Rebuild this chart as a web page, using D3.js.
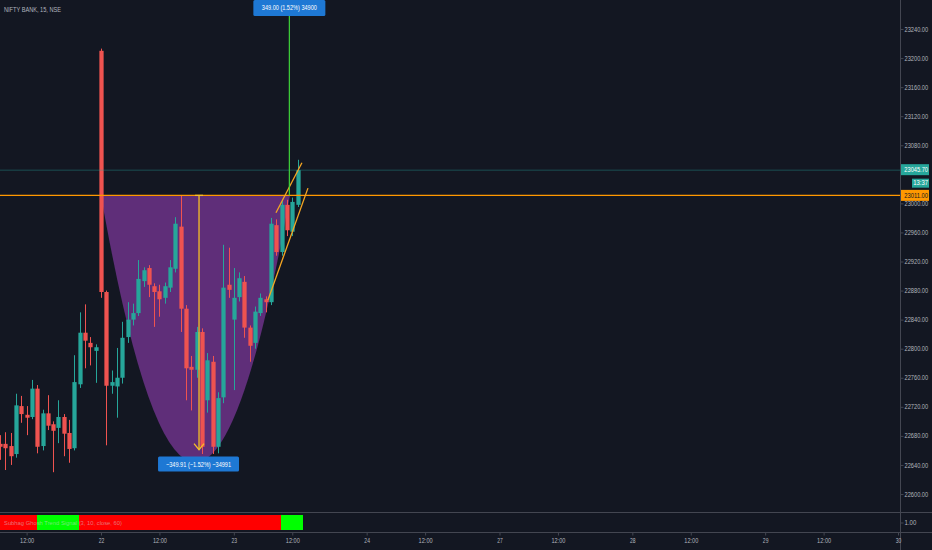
<!DOCTYPE html>
<html><head><meta charset="utf-8">
<script src="https://cdn.jsdelivr.net/npm/d3@7"></script>
<style>
html,body{margin:0;padding:0;background:#131722;overflow:hidden}
svg{display:block}
</style></head><body>
<svg id="chart" width="932" height="550"></svg>
<script>
// ---------- DATA ----------
const title = "NIFTY BANK, 15, NSE";
const indicatorTitle = "Subhag Ghosh Trend Signal (3, 10, close, 60)";
// bar index: day 21 bars 0-24, day 22 bars 25-49, day 23 bars 50-74 (15-minute bars)
const firstBarIndex = 6;
const opens  = [22669,22669,22666,22655,22721,22709,22706,22745,22666,22711,22696,22691,22706,22684,22663,22751,22822,22808,22797,
                23210,22878,22749,22748,22760,22816,22840,22849,22893,22911,22886,22879,22870,22884,22910,22968,22855,22775,22771,22823,22729,22782,22665,22733,22888,
                22840,22871,22892,22829,22808,22849,22868,22864,22970,22933,22998,22961,22998];
const highs  = [22681,22685,22684,22738,22735,22721,22757,22750,22716,22736,22700,22729,22710,22702,22791,22850,22861,22816,22806,
                23213,22880,22770,22801,22837,22864,22862,22922,22912,22915,22890,22888,22891,22922,22981,23011,22860,22790,22830,22828,22794,22790,22740,22943,22939,
                22911,22905,22900,22832,22858,22876,22872,22980,22978,23003,23005,23008,23060];
const lows   = [22647,22633,22640,22650,22698,22681,22703,22656,22660,22688,22630,22670,22652,22643,22660,22746,22773,22777,22753,
                22870,22667,22738,22705,22752,22808,22832,22845,22885,22871,22830,22844,22862,22878,22905,22823,22729,22715,22760,22655,22712,22655,22656,22725,22870,
                22743,22865,22815,22782,22800,22845,22850,22860,22928,22928,22955,22955,22995];
const closes = [22665,22663,22652,22722,22710,22705,22745,22665,22711,22694,22687,22706,22683,22662,22754,22822,22811,22802,22802,
                22878,22749,22754,22760,22815,22840,22849,22896,22908,22888,22878,22868,22886,22912,22972,22855,22773,22771,22823,22665,22784,22665,22732,22884,22881,
                22870,22897,22829,22804,22851,22870,22864,22972,22933,22998,22963,23002,23045.7];
// trend signal per bar: 1 = green, 0 = red
const signal = [0,0,0,0,0,0,0,1,1,1,1,1,1,1,1,0,0,0,0,
                0,0,0,0,0,0,0,0,0,0,0,0,0,0,0,0,0,0,0,0,0,0,0,0,0,
                0,0,0,0,0,0,0,0,0,1,1,1,1];
// 23040 is hidden behind the last-price label in the reference
const priceTicks = [22600,22640,22680,22720,22760,22800,22840,22880,22920,22960,23000,23080,23120,23160,23200,23240];
const timeTickIndex = [11,25,36,50,61,75,86,100,111,125,136,150,161,175];
const timeTickLabels = ["12:00","22","12:00","23","12:00","24","12:00","27","12:00","28","12:00","29","12:00","30"];
const lastPrice = 23045.70;
const countdown = "13:37";
const levelPrice = 23011.00;
// drawings: [barIndex, price]
const cupStart = [25, 23011], cupControl = [42.7, 22276], cupEnd = [60.56, 23011];
const channelUpper = [[57.93, 22987], [62.82, 23056]];
const channelLower = [[56.42, 22867], [63.95, 23021]];
const measureUp = {bar: 60.45, from: 23011, to: 23360, label: "349.00 (1.52%) 34900"};
const measureDown = {bar: 43.45, from: 23011, to: 22661.09, label: "\u2212349.91 (\u22121.52%) \u221234991"};

// ---------- CHART ----------
const FONT = '"Liberation Sans", Arial, sans-serif';
const W = 932, H = 550, axisX = 900, mainBottom = 512, indTop = 513, indBottom = 532;
const svg = d3.select("#chart").style("font-family", FONT);
const x = d3.scaleLinear().domain([25, 175]).range([101, 898]);
const y = d3.scaleLinear().domain([22600, 23240]).range([494, 29]);
const yInd = d3.scaleLinear().domain([0, 2]).range([530, 515]);
const step = x(1) - x(0);
const bodyW = step * 0.8;
const TXT = "#b2b5be";
const LINE = "#434651";

function condense(sel, perChar, fs) {
  sel.each(function () {
    const t = d3.select(this);
    const s = t.text();
    t.attr("font-family", FONT).attr("font-size", fs || 7.5)
      .attr("textLength", s.length * perChar).attr("lengthAdjust", "spacingAndGlyphs");
  });
}

svg.append("rect").attr("width", W).attr("height", H).attr("fill", "#131722");

svg.append("clipPath").attr("id", "mainclip").append("rect")
  .attr("x", 0).attr("y", 0).attr("width", axisX).attr("height", mainBottom);
svg.append("clipPath").attr("id", "indclip").append("rect")
  .attr("x", 0).attr("y", indTop).attr("width", axisX).attr("height", indBottom - indTop);

const main = svg.append("g").attr("clip-path", "url(#mainclip)");

// cup drawing (filled quadratic curve)
const cp = d3.path();
cp.moveTo(x(cupStart[0]), y(cupStart[1]));
cp.quadraticCurveTo(x(cupControl[0]), y(cupControl[1]), x(cupEnd[0]), y(cupEnd[1]));
cp.closePath();
main.append("path").attr("d", cp.toString()).attr("fill", "#5f2e79");

// candles
const bars = opens.map((o, i) => ({i: firstBarIndex + i, o, h: highs[i], l: lows[i], c: closes[i]}));
const cg = main.append("g");
bars.forEach(b => {
  const col = b.c >= b.o ? "#26a69a" : "#ef5350";
  const cx = Math.round(x(b.i)) + 0.5;
  cg.append("line").attr("x1", cx).attr("x2", cx)
    .attr("y1", y(b.h)).attr("y2", y(b.l)).attr("stroke", col).attr("stroke-width", 1);
  const top = y(Math.max(b.o, b.c)), bot = y(Math.min(b.o, b.c));
  cg.append("rect").attr("x", cx - bodyW / 2).attr("width", bodyW)
    .attr("y", top).attr("height", Math.max(1, bot - top)).attr("fill", col);
});

// last price line & level line
main.append("line").attr("x1", 0).attr("x2", axisX).attr("y1", y(lastPrice)).attr("y2", y(lastPrice))
  .attr("stroke", "#26a69a").attr("stroke-opacity", 0.4).attr("stroke-width", 1);
main.append("line").attr("x1", 0).attr("x2", axisX).attr("y1", y(levelPrice)).attr("y2", y(levelPrice))
  .attr("stroke", "#ff9800").attr("stroke-width", 1.4);

// channel lines
[channelUpper, channelLower].forEach(seg => {
  main.append("line").attr("x1", x(seg[0][0])).attr("y1", y(seg[0][1]))
    .attr("x2", x(seg[1][0])).attr("y2", y(seg[1][1]))
    .attr("stroke", "#f5a623").attr("stroke-width", 1.3);
});

// measure down (yellow arrow)
const mdx = x(measureDown.bar);
main.append("line").attr("x1", mdx).attr("x2", mdx).attr("y1", y(measureDown.from)).attr("y2", y(measureDown.to))
  .attr("stroke", "#f6c026").attr("stroke-width", 1.3);
main.append("line").attr("x1", mdx - 4).attr("x2", mdx + 4).attr("y1", y(measureDown.from)).attr("y2", y(measureDown.from))
  .attr("stroke", "#f6c026").attr("stroke-width", 1.3);
main.append("path").attr("d", `M${mdx - 5},${y(measureDown.to) - 6}L${mdx},${y(measureDown.to)}L${mdx + 5},${y(measureDown.to) - 6}`)
  .attr("fill", "none").attr("stroke", "#f6c026").attr("stroke-width", 1.3);
const dbY = y(measureDown.to) + 7;
main.append("rect").attr("x", mdx - 41).attr("y", dbY).attr("width", 81).attr("height", 15).attr("rx", 1.5)
  .attr("fill", "#1e78d4");
main.append("text").attr("x", mdx - 0.5).attr("y", dbY + 7.5).attr("dy", "0.35em").attr("text-anchor", "middle")
  .attr("fill", "#ffffff").text(measureDown.label).call(condense, 2.83, 7);

// measure up (green line, label clamped at top)
const mux = x(measureUp.bar);
main.append("line").attr("x1", mux).attr("x2", mux).attr("y1", y(measureUp.from)).attr("y2", Math.max(16, y(measureUp.to)))
  .attr("stroke", "#3fd13a").attr("stroke-width", 1.2);
main.append("rect").attr("x", mux - 36).attr("y", 0).attr("width", 72).attr("height", 16).attr("rx", 1.5)
  .attr("fill", "#1e78d4");
main.append("text").attr("x", mux).attr("y", 8).attr("dy", "0.35em").attr("text-anchor", "middle")
  .attr("fill", "#ffffff").text(measureUp.label).call(condense, 2.75, 7);

// title
svg.append("text").attr("x", 4).attr("y", 9.5).attr("dy", "0.35em").attr("fill", TXT)
  .text(title).call(condense, 3.0, 7.5);

// indicator pane (contiguous coloured columns)
const ind = svg.append("g").attr("clip-path", "url(#indclip)");
const colLeft = i => Math.round(x(i) - step / 2 + 2.3);
bars.forEach((b, k) => {
  ind.append("rect").attr("x", colLeft(b.i)).attr("width", colLeft(b.i + 1) - colLeft(b.i))
    .attr("y", yInd(2)).attr("height", yInd(0) - yInd(2))
    .attr("fill", signal[k] ? "#00ff00" : "#ff0000").attr("shape-rendering", "crispEdges");
});
svg.append("text").attr("x", 4).attr("y", yInd(1)).attr("dy", "0.35em")
  .attr("fill", "#d1d4dc").attr("fill-opacity", 0.55).text(indicatorTitle).call(condense, 118 / indicatorTitle.length, 6);

// separators
svg.append("line").attr("x1", 0).attr("x2", W).attr("y1", indTop - 0.5).attr("y2", indTop - 0.5).attr("stroke", LINE);
svg.append("line").attr("x1", 0).attr("x2", W).attr("y1", indBottom + 0.5).attr("y2", indBottom + 0.5).attr("stroke", LINE);
svg.append("line").attr("x1", axisX + 0.5).attr("x2", axisX + 0.5).attr("y1", 0).attr("y2", H).attr("stroke", LINE);

// price axis
const AFS = 6.4;
const pa = svg.append("g").attr("transform", `translate(${axisX + 0.5},0)`)
  .call(d3.axisRight(y).tickValues(priceTicks).tickFormat(d => d.toFixed(2)).tickSize(3).tickPadding(1));
pa.select(".domain").remove();
pa.selectAll(".tick line").attr("stroke", LINE);
pa.selectAll(".tick text").attr("fill", TXT).call(condense, 2.96, AFS);

// indicator axis
const ia = svg.append("g").attr("transform", `translate(${axisX + 0.5},0)`)
  .call(d3.axisRight(yInd).tickValues([1]).tickFormat(d => d.toFixed(2)).tickSize(3).tickPadding(1));
ia.select(".domain").remove();
ia.selectAll(".tick line").attr("stroke", LINE);
ia.selectAll(".tick text").attr("fill", TXT).call(condense, 2.96, AFS);

// time axis
const ta = svg.append("g").attr("transform", `translate(0,${indBottom + 0.5})`)
  .call(d3.axisBottom(x).tickValues(timeTickIndex).tickFormat((d, i) => timeTickLabels[i]).tickSize(3).tickPadding(3));
ta.select(".domain").remove();
ta.selectAll(".tick line").attr("stroke", LINE);
ta.selectAll(".tick text").attr("fill", TXT).call(condense, 2.8, 7);

// price labels on axis
function priceBox(price, fill, textFill, label, yOff, x0, h) {
  const cy = y(price) + (yOff || 0);
  const left = x0 || axisX + 1, hh = h || 11;
  svg.append("rect").attr("x", left).attr("y", cy - hh / 2).attr("width", 929 - left).attr("height", hh)
    .attr("fill", fill);
  svg.append("text").attr("x", 928).attr("y", cy).attr("dy", "0.35em").attr("text-anchor", "end")
    .attr("fill", textFill).text(label).call(condense, 2.96, AFS);
}
priceBox(lastPrice, "#26a69a", "#ffffff", lastPrice.toFixed(2), -0.5);
priceBox(lastPrice, "#26a69a", "#ffffff", countdown, 13, 912, 9);
priceBox(levelPrice, "#ff9800", "#131722", levelPrice.toFixed(2), 0);
</script>
</body></html>
